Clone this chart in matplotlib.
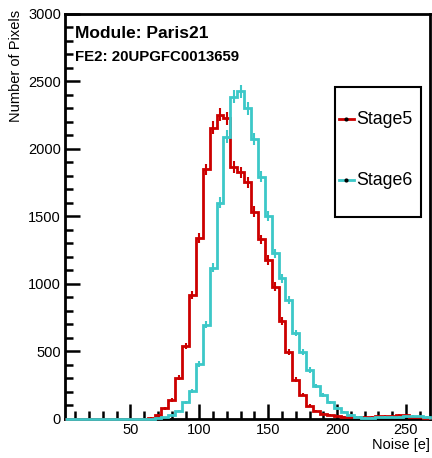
import numpy as np
import matplotlib
matplotlib.use("Agg")
import matplotlib.pyplot as plt
from matplotlib.ticker import MultipleLocator
from matplotlib.patches import Rectangle

plt.rcParams['font.family'] = ['Liberation Sans', 'DejaVu Sans']

# DATA (bin centers every 5 e)
bin_centers = np.arange(5, 270, 5)
stage5 = [0, 0, 0, 0, 0, 0, 0, 0, 0, 0, 0, 3, 10, 30, 78, 140, 305, 538, 918, 1337,
          1847, 2155, 2250, 2225, 1862, 1825, 1750, 1534, 1328, 1176, 979, 725, 492, 292,
          180, 98, 60, 40, 28, 25, 18, 15, 12, 12, 15, 20, 22, 22, 30, 28, 18, 12, 10]
stage6 = [0, 0, 0, 0, 0, 0, 0, 0, 0, 0, 0, 0, 2, 5, 12, 30, 58, 125, 208, 408,
          697, 1120, 1600, 2089, 2385, 2425, 2299, 2071, 1793, 1502, 1226, 1041, 880, 636,
          498, 362, 244, 178, 122, 82, 54, 33, 15, 10, 10, 12, 15, 15, 18, 20, 22, 20, 15]
labels = ["Stage5", "Stage6"]
colors = ["#cc0000", "#3cc8c8"]
module_name = "Module: Paris21"
fe_name = "FE2: 20UPGFC0013659"

edges = np.append(bin_centers - 2.5, bin_centers[-1] + 2.5)

fig = plt.figure(figsize=(4.32, 4.58), dpi=100)
ax = fig.add_axes([0.1505, 0.0852, 0.845, 0.8853])

for vals, col in zip([stage5, stage6], colors):
    vals = np.array(vals, dtype=float)
    ax.stairs(vals, edges, color=col, lw=2, baseline=0, zorder=3, clip_on=False)
    ax.errorbar(bin_centers, vals, yerr=np.sqrt(vals), fmt='none', ecolor=col,
                elinewidth=1.5, capsize=0, zorder=3)

ax.set_xlim(edges[0], edges[-1])
ax.set_ylim(0, 3000)
ax.xaxis.set_major_locator(MultipleLocator(50))
ax.xaxis.set_minor_locator(MultipleLocator(10))
ax.yaxis.set_major_locator(MultipleLocator(500))
ax.yaxis.set_minor_locator(MultipleLocator(100))
ax.tick_params(which='both', direction='in', width=1.8, labelsize=10.5, top=False, right=False)
ax.tick_params(which='major', length=11, pad=3)
ax.tick_params(which='minor', length=6)
for sp in ax.spines.values():
    sp.set_linewidth(2)

fig.text(16/432, 1-10/458, "Number of Pixels", rotation=90, ha='center', va='top', fontsize=10.5)
fig.text(430/432, 1-445/458, "Noise [e]", ha='right', va='center', fontsize=10.5)

ax.text(0.028, 0.951, module_name, transform=ax.transAxes, fontsize=12.5, fontweight='bold', va='center')
ax.text(0.028, 0.892, fe_name, transform=ax.transAxes, fontsize=10.8, fontweight='bold', va='center')

# legend box
ax.add_patch(Rectangle((0.739, 0.499), 0.236, 0.3205, transform=ax.transAxes,
                       fill=True, facecolor='white', edgecolor='black', lw=1.5, zorder=5))
for yy, lab, col in zip([0.739, 0.589], labels, colors):
    ax.plot([0.75, 0.791], [yy, yy], transform=ax.transAxes, color=col, lw=2, zorder=6)
    ax.plot([0.7705], [yy], transform=ax.transAxes, marker='o', ms=2, color='black', zorder=7)
    ax.text(0.799, yy, lab, transform=ax.transAxes, fontsize=12.8, va='center', zorder=7)

fig.savefig("out.png", dpi=100)
